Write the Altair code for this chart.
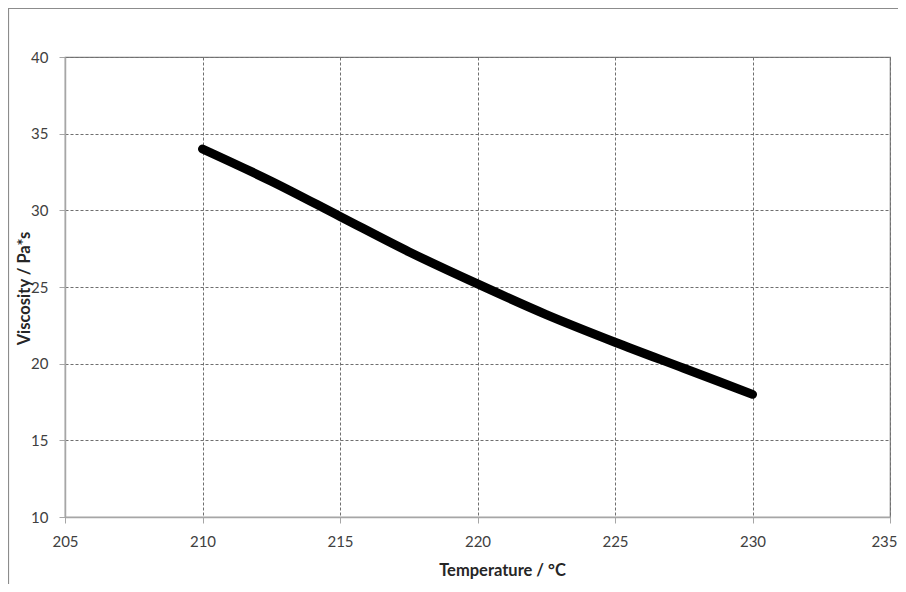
import altair as alt
import pandas as pd

temperature = [210, 212.5, 215, 217.5, 220, 222.5, 225, 227.5, 230]
viscosity = [34.0, 31.9, 29.6, 27.3, 25.2, 23.2, 21.4, 19.7, 18.0]
x_ticks = [205, 210, 215, 220, 225, 230, 235]
y_ticks = [10, 15, 20, 25, 30, 35, 40]

df = pd.DataFrame({"t": temperature, "v": viscosity})

W, H = 825, 460
FONT = "Lato"

frame = alt.Chart(pd.DataFrame({"a": [0]})).mark_rect(
    fill=None, stroke="#8c8c8c", strokeWidth=1.2, clip=False
).encode(
    x=alt.value(-56.5), x2=alt.value(W + 80), y=alt.value(-48.5), y2=alt.value(H + 120)
)

line = alt.Chart(df).mark_line(
    color="black", strokeWidth=9, strokeCap="round", interpolate="monotone"
).encode(
    x=alt.X("t:Q", scale=alt.Scale(domain=[205, 235], nice=False, zero=False),
            axis=alt.Axis(values=x_ticks, title="Temperature / °C", format="d",
                          titleX=437, titleY=45, titleAnchor="middle",
                          titleBaseline="top", labelFlush=False,
                          labelAlign={"expr": "datum.value == 235 ? 'right' : 'center'"},
                          labelOffset={"expr": "datum.value == 235 ? 7 : 0"})),
    y=alt.Y("v:Q", scale=alt.Scale(domain=[10, 40], nice=False, zero=False),
            axis=alt.Axis(values=y_ticks, title="Viscosity / Pa*s", format="d",
                          titleX=-33, titleY=H / 2 + 1, labelFlush=False)),
)

chart = alt.layer(frame, line).properties(
    width=W, height=H,
    background="white",
    autosize=alt.AutoSizeParams(type="none"),
    padding={"left": 57, "top": 49, "right": 8, "bottom": 67},
).configure_view(
    stroke="#7f7f7f", strokeWidth=1.2
).configure_axis(
    grid=True, gridDash=[3, 2], gridColor="#6f6f6f", gridWidth=1,
    domainColor="#a6a6a6", domainWidth=1.5, tickColor="#a6a6a6", tickSize=6,
    labelFont=FONT, labelFontSize=15, labelColor="#404040", labelPadding=11,
    titleFont=FONT, titleFontSize=16.5, titleFontWeight="bold", titleColor="#262626",
)

chart.save("out.html", embed_options={"renderer": "svg", "actions": False})
